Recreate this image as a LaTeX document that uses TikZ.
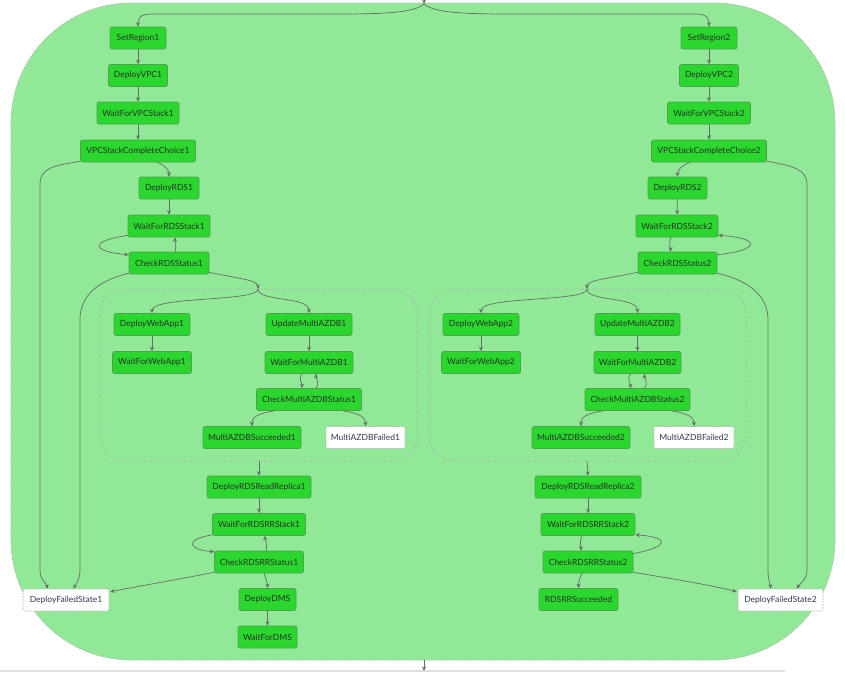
\documentclass[tikz,border=0pt]{standalone}
\usepackage{fontspec}
\setmainfont{Lato}
\usetikzlibrary{arrows.meta,calc}
\definecolor{outerfill}{RGB}{145,233,152}
\definecolor{nodefill}{RGB}{43,214,46}
\definecolor{nodeborder}{RGB}{80,160,80}
\definecolor{edgec}{RGB}{100,110,100}
\definecolor{textc}{RGB}{40,50,40}
\definecolor{dashc}{RGB}{175,185,175}
\tikzset{
  gn/.style={draw=nodeborder, fill=nodefill, rounded corners=2, minimum height=22, inner sep=0,
    font=\fontsize{8.5}{10}\selectfont, text=textc, line width=0.6},
  wn/.style={gn, fill=white, draw=gray!55, dashed, dash pattern=on 2pt off 1pt, text={rgb,255:red,50;green,55;blue,80}},
  edge/.style={draw=edgec, line width=0.7, -{Stealth[length=4.5,width=4]}},
  plain/.style={draw=edgec, line width=0.7},
}
\begin{document}
\begin{tikzpicture}[x=1pt,y=-1pt]
\useasboundingbox (0,0) rectangle (845,673);
\fill[white] (0,0) rectangle (845,673);
% outer container
\draw[fill=outerfill, draw=dashc, dashed, dash pattern=on 2pt off 1pt, line width=0.6, rounded corners=120] (11,3) rectangle (835,660);
% parallel boxes
\draw[draw=gray!60, dashed, dash pattern=on 3pt off 2pt, line width=0.6, rounded corners=25] (100,289) rectangle (417,461);
\draw[draw=gray!60, dashed, dash pattern=on 3pt off 2pt, line width=0.6, rounded corners=25] (429,289) rectangle (746,461);
% bottom line
\draw[gray!25, line width=1.5] (0,671) -- (785,671);

\coordinate (top) at (424,4);
\coordinate (topin) at (424,-2);
\coordinate (bot) at (424,660);
\coordinate (botend) at (424,671);
\coordinate (p1top) at (258,289);
\coordinate (p1bot) at (259,461);
\coordinate (p2top) at (587,289);
\coordinate (p2bot) at (587,461);

% left nodes
\node[gn, minimum width=56] (sr1) at (138,38) {SetRegion1};
\node[gn, minimum width=59] (dvpc1) at (138,75.5) {DeployVPC1};
\node[gn, minimum width=82] (wvpc1) at (138,113) {WaitForVPCStack1};
\node[gn, minimum width=115] (vcc1) at (138,151) {VPCStackCompleteChoice1};
\node[gn, minimum width=60] (drds1) at (169,188) {DeployRDS1};
\node[gn, minimum width=82] (wrds1) at (169,226) {WaitForRDSStack1};
\node[gn, minimum width=80] (crds1) at (169,263) {CheckRDSStatus1};
\node[gn, minimum width=76] (dwa1) at (152,324.5) {DeployWebApp1};
\node[gn, minimum width=79] (wwa1) at (152,362.5) {WaitForWebApp1};
\node[gn, minimum width=86] (umaz1) at (309,324.5) {UpdateMultiAZDB1};
\node[gn, minimum width=88] (wmaz1) at (309,362.5) {WaitForMultiAZDB1};
\node[gn, minimum width=105] (cmaz1) at (309,399.5) {CheckMultiAZDBStatus1};
\node[gn, minimum width=98] (mazs1) at (252,437.5) {MultiAZDBSucceeded1};
\node[wn, minimum width=79] (mazf1) at (365.5,437.5) {MultiAZDBFailed1};
\node[gn, minimum width=104] (drr1) at (259,487) {DeployRDSReadReplica1};
\node[gn, minimum width=93] (wrr1) at (259,524.5) {WaitForRDSRRStack1};
\node[gn, minimum width=89] (crr1) at (259,562) {CheckRDSRRStatus1};
\node[gn, minimum width=57] (ddms) at (267.5,599.5) {DeployDMS};
\node[gn, minimum width=59] (wdms) at (267.5,637) {WaitForDMS};
\node[wn, minimum width=86] (dfs1) at (66,600) {DeployFailedState1};

% right nodes
\node[gn, minimum width=56] (sr2) at (709,38) {SetRegion2};
\node[gn, minimum width=59] (dvpc2) at (709,75.5) {DeployVPC2};
\node[gn, minimum width=83] (wvpc2) at (709,113) {WaitForVPCStack2};
\node[gn, minimum width=115] (vcc2) at (709,151) {VPCStackCompleteChoice2};
\node[gn, minimum width=59] (drds2) at (677.5,188) {DeployRDS2};
\node[gn, minimum width=82] (wrds2) at (677,226) {WaitForRDSStack2};
\node[gn, minimum width=79] (crds2) at (677.5,263) {CheckRDSStatus2};
\node[gn, minimum width=76] (dwa2) at (481,324.5) {DeployWebApp2};
\node[gn, minimum width=79] (wwa2) at (481,362.5) {WaitForWebApp2};
\node[gn, minimum width=85] (umaz2) at (637.5,324.5) {UpdateMultiAZDB2};
\node[gn, minimum width=87] (wmaz2) at (637.5,362.5) {WaitForMultiAZDB2};
\node[gn, minimum width=105] (cmaz2) at (637.5,399.5) {CheckMultiAZDBStatus2};
\node[gn, minimum width=98] (mazs2) at (581,437.5) {MultiAZDBSucceeded2};
\node[wn, minimum width=80] (mazf2) at (694,437.5) {MultiAZDBFailed2};
\node[gn, minimum width=106] (drr2) at (588,487) {DeployRDSReadReplica2};
\node[gn, minimum width=94] (wrr2) at (588,524.5) {WaitForRDSRRStack2};
\node[gn, minimum width=90] (crr2) at (588,562) {CheckRDSRRStatus2};
\node[gn, minimum width=79] (rrs) at (578.5,599.5) {RDSRRSucceeded};
\node[wn, minimum width=85] (dfs2) at (780.5,600) {DeployFailedState2};

% top entry and fork
\draw[edge] (topin) -- (top);
\draw[edge] (top) .. controls (415,12) and (390,14) .. (340,14) -- (152,14) .. controls (140,14) and (138,18) .. (sr1.north);
\draw[edge] (top) .. controls (433,12) and (458,14) .. (508,14) -- (695,14) .. controls (707,14) and (709,18) .. (sr2.north);
% bottom exit
\draw[edge] (bot) -- (botend);

% left chain
\draw[edge] (sr1) -- (dvpc1);
\draw[edge] (dvpc1) -- (wvpc1);
\draw[edge] (wvpc1) -- (vcc1);
\draw[edge] ($(vcc1.south)+(19,0)$) .. controls +(8,3) and +(0,-7) .. (drds1.north);
\draw[edge] (drds1) -- (wrds1);
\draw[edge] ($(wrds1.south west)+(0,-2)$) .. controls (85,242) and (95,252) .. ($(crds1.north west)+(0,3)$);
\draw[edge] ($(crds1.north)+(6,0)$) .. controls +(2,-6) and +(0,5) .. ($(wrds1.south)+(6,0)$);
\draw[edge] ($(vcc1.south west)+(0,-1)$) .. controls (52,166) and (40,168) .. (40,185) -- (40,570) .. controls (40,580) and (46,582) .. ($(dfs1.north west)+(25,0)$);
\draw[edge] ($(crds1.south west)+(0,-1)$) .. controls (92,282) and (80,300) .. (80,320) -- (80,570) .. controls (80,580) and (76,583) .. ($(dfs1.north west)+(51,0)$);
\draw[edge] ($(crds1.south east)+(0,-2)$) .. controls (240,279) and (258,280) .. (p1top);
\draw[edge] (p1top) .. controls (258,302) and (152,296) .. (dwa1.north);
\draw[edge] (p1top) .. controls (258,302) and (309,296) .. (umaz1.north);
\draw[edge] (dwa1) -- (wwa1);
\draw[edge] (umaz1) -- (wmaz1);
\draw[edge] ($(wmaz1.south)+(-7,0)$) .. controls +(-4,6) and +(0,-6) .. ($(cmaz1.north)+(-7,0)$);
\draw[edge] ($(cmaz1.north)+(7,0)$) .. controls +(4,-6) and +(0,6) .. ($(wmaz1.south)+(7,0)$);
\draw[edge] ($(cmaz1.south)+(-34,0)$) .. controls +(-20,3) and +(0,-8) .. (mazs1.north);
\draw[edge] ($(cmaz1.south)+(34,0)$) .. controls +(19,3) and +(0,-8) .. (mazf1.north);
\draw[edge] (p1bot) -- (drr1.north);
\draw[edge] (drr1) -- (wrr1);
\draw[edge] ($(wrr1.south west)+(0,-1)$) .. controls (182,540) and (190,550) .. ($(crr1.north west)+(0,1)$);
\draw[edge] ($(crr1.north)+(7,0)$) .. controls +(2,-6) and +(0,5) .. ($(wrr1.south)+(6,0)$);
\draw[edge] ($(crr1.south)+(5,0)$) .. controls +(2,6) and +(0,-5) .. (ddms.north);
\draw[edge] ($(crr1.south west)+(0,-1)$) .. controls (180,579) and (140,586) .. ($(dfs1.north east)+(1,3)$);
\draw[edge] (ddms) -- (wdms);

% right chain
\draw[edge] (sr2) -- (dvpc2);
\draw[edge] (dvpc2) -- (wvpc2);
\draw[edge] (wvpc2) -- (vcc2);
\draw[edge] ($(vcc2.south)+(-19,0)$) .. controls +(-8,3) and +(0,-7) .. (drds2.north);
\draw[edge] (drds2) -- (wrds2);
\draw[edge] ($(wrds2.south)+(-6,0)$) .. controls +(-3,6) and +(0,-5) .. ($(crds2.north)+(-7,0)$);
\draw[edge] ($(crds2.north east)+(0,3)$) .. controls (762,250) and (760,238) .. ($(wrds2.south east)+(0,-2)$);
\draw[edge] ($(vcc2.south east)+(0,-1)$) .. controls (795,166) and (807,170) .. (807,185) -- (807,570) .. controls (807,580) and (800,583) .. ($(dfs2.north west)+(59,0)$);
\draw[edge] ($(crds2.south east)+(0,-1)$) .. controls (755,282) and (768,300) .. (768,320) -- (768,570) .. controls (768,580) and (770,583) .. ($(dfs2.north west)+(33,0)$);
\draw[edge] ($(crds2.south west)+(0,-2)$) .. controls (606,279) and (587,280) .. (p2top);
\draw[edge] (p2top) .. controls (587,302) and (481,296) .. (dwa2.north);
\draw[edge] (p2top) .. controls (587,302) and (637.5,296) .. (umaz2.north);
\draw[edge] (dwa2) -- (wwa2);
\draw[edge] (umaz2) -- (wmaz2);
\draw[edge] ($(wmaz2.south)+(-7,0)$) .. controls +(-4,6) and +(0,-6) .. ($(cmaz2.north)+(-7,0)$);
\draw[edge] ($(cmaz2.north)+(7,0)$) .. controls +(4,-6) and +(0,6) .. ($(wmaz2.south)+(7,0)$);
\draw[edge] ($(cmaz2.south)+(-34,0)$) .. controls +(-20,3) and +(0,-8) .. (mazs2.north);
\draw[edge] ($(cmaz2.south)+(34,0)$) .. controls +(19,3) and +(0,-8) .. (mazf2.north);
\draw[edge] (p2bot) -- (drr2.north);
\draw[edge] (drr2) -- (wrr2);
\draw[edge] ($(wrr2.south)+(-6,0)$) .. controls +(-3,6) and +(0,-5) .. ($(crr2.north)+(-7,0)$);
\draw[edge] ($(crr2.north east)+(0,3)$) .. controls (672,546) and (668,537) .. ($(wrr2.south east)+(0,-1)$);
\draw[edge] ($(crr2.south)+(-6,0)$) .. controls +(-3,6) and +(0,-5) .. (rrs.north);
\draw[edge] ($(crr2.south east)+(0,-1)$) .. controls (680,580) and (715,586) .. ($(dfs2.north west)+(-1,3)$);
\end{tikzpicture}
\end{document}
